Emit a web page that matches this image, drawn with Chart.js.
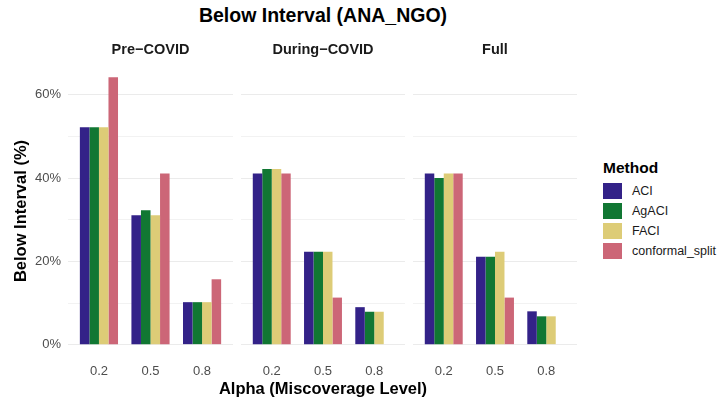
<!DOCTYPE html>
<html>
<head>
<meta charset="utf-8">
<script src="https://cdn.jsdelivr.net/npm/chart.js@4.4.1/dist/chart.umd.min.js"></script>
<style>
  html, body { margin: 0; padding: 0; background: #ffffff; }
  body { width: 727px; height: 401px; position: relative; overflow: hidden;
         font-family: "Liberation Sans", Arial, sans-serif; }
  .panel { position: absolute; top: 30px; height: 371px; }
  #title { position: absolute; left: 0; width: 646px; top: 5px; line-height: 20px; text-align: center;
           font-weight: bold; font-size: 19.5px; color: #000; }
  #xtitle { position: absolute; left: 0; width: 646px; top: 378px; line-height: 20px; text-align: center;
            font-weight: bold; font-size: 16.5px; color: #000; }
  #legend { position: absolute; left: 603px; top: 159px; }
  #legend .head { font-weight: bold; font-size: 15.5px; line-height: 18px; color: #000; margin-bottom: 4px; }
  #legend .row { display: flex; align-items: center; height: 20px; }
  #legend .key { width: 19px; height: 16px; margin-right: 10px; }
  #legend .lab { font-size: 12.5px; color: #1a1a1a; }
</style>
</head>
<body>
<div id="title">Below Interval (ANA_NGO)</div>
<canvas id="p0" class="panel" style="left:0px;width:233px" width="233" height="371"></canvas>
<canvas id="p1" class="panel" style="left:241px;width:164px" width="164" height="371"></canvas>
<canvas id="p2" class="panel" style="left:413px;width:164px" width="164" height="371"></canvas>
<div id="xtitle">Alpha (Miscoverage Level)</div>
<div id="legend"></div>
<script>
// Facets (periods), alpha levels and methods
const periods = ["Pre\u2212COVID", "During\u2212COVID", "Full"];
const alphaLabels = ["0.2", "0.5", "0.8"];
const methods = ["ACI", "AgACI", "FACI", "conformal_split"];
const methodColors = ["#332288", "#117733", "#DDCC77", "#CC6677"];

// Share of observations below the interval (%), one array per period, per method, by alpha
const preCovid = {
  ACI:             [52.2, 31.1, 10.2],
  AgACI:           [52.2, 32.3, 10.2],
  FACI:            [52.2, 31.1, 10.2],
  conformal_split: [64.2, 41.1, 15.7]
};
const duringCovid = {
  ACI:             [41.1, 22.3, 9.0],
  AgACI:           [42.2, 22.3, 7.9],
  FACI:            [42.2, 22.3, 7.9],
  conformal_split: [41.1, 11.3, 0.0]
};
const fullPeriod = {
  ACI:             [41.1, 21.1, 8.0],
  AgACI:           [40.0, 21.1, 6.8],
  FACI:            [41.1, 22.3, 6.8],
  conformal_split: [41.1, 11.3, 0.0]
};
const yTicks = [0, 10, 20, 30, 40, 50, 60];

const panelData = [preCovid, duringCovid, fullPeriod];

// Shared y range with a 5% expansion on both ends
const allVals = panelData.flatMap(p => methods.flatMap(m => p[m]));
const yMaxData = Math.max(...allVals);
const yPad = yMaxData * 0.05;

const FONT = "'Liberation Sans', Arial, sans-serif";

function makePanel(idx) {
  const first = idx === 0;
  const data = panelData[idx];
  return new Chart(document.getElementById('p' + idx), {
    type: 'bar',
    data: {
      datasets: methods.map((m, k) => ({
        label: m,
        data: data[m].map((v, i) => ({ x: i, y: v })),
        backgroundColor: methodColors[k],
        borderWidth: 0,
        categoryPercentage: 0.74,
        barPercentage: 1.0
      }))
    },
    options: {
      responsive: false,
      animation: false,
      layout: { padding: 0 },
      plugins: {
        legend: { display: false },
        tooltip: { enabled: false },
        title: {
          display: true,
          fullSize: false,
          text: periods[idx],
          color: '#1a1a1a',
          font: { family: FONT, size: 14.5, weight: 'bold', lineHeight: 1.2 },
          padding: { top: 11.3, bottom: 5.3 }
        }
      },
      scales: {
        x: {
          type: 'linear',
          offset: false,
          min: -0.6,
          max: 2.6,
          afterBuildTicks: s => { s.ticks = alphaLabels.map((_, i) => ({ value: i })); },
          afterFit: s => { s.height = 43; },
          grid: { display: false, drawTicks: false, offset: false },
          border: { display: false },
          ticks: {
            color: '#4d4d4d',
            padding: 6,
            maxRotation: 0,
            autoSkip: false,
            font: { family: FONT, size: 13 },
            callback: v => alphaLabels[v] ?? ''
          }
        },
        y: {
          min: -yPad,
          max: yMaxData + yPad,
          afterBuildTicks: s => { s.ticks = yTicks.map(v => ({ value: v })); },
          afterFit: s => { s.width = first ? 68 : 0; },
          border: { display: false },
          grid: {
            drawTicks: false,
            color: c => (c.tick && c.tick.value % 20 === 0) ? '#ebebeb' : '#f2f2f2',
            lineWidth: 1
          },
          ticks: {
            display: first,
            color: '#4d4d4d',
            padding: 7,
            font: { family: FONT, size: 13 },
            callback: v => (v % 20 === 0 ? v + '%' : '')
          },
          title: {
            display: first,
            text: 'Below Interval (%)',
            color: '#000',
            font: { family: FONT, size: 16.5, weight: 'bold', lineHeight: 1.2 },
            padding: { top: 11.1, bottom: 0 }
          }
        }
      }
    }
  });
}

[0, 1, 2].forEach(makePanel);

// Legend
const legend = document.getElementById('legend');
const head = document.createElement('div');
head.className = 'head';
head.textContent = 'Method';
legend.appendChild(head);
methods.forEach((m, k) => {
  const row = document.createElement('div');
  row.className = 'row';
  const key = document.createElement('div');
  key.className = 'key';
  key.style.background = methodColors[k];
  const lab = document.createElement('div');
  lab.className = 'lab';
  lab.textContent = m;
  row.appendChild(key);
  row.appendChild(lab);
  legend.appendChild(row);
});
</script>
</body>
</html>
